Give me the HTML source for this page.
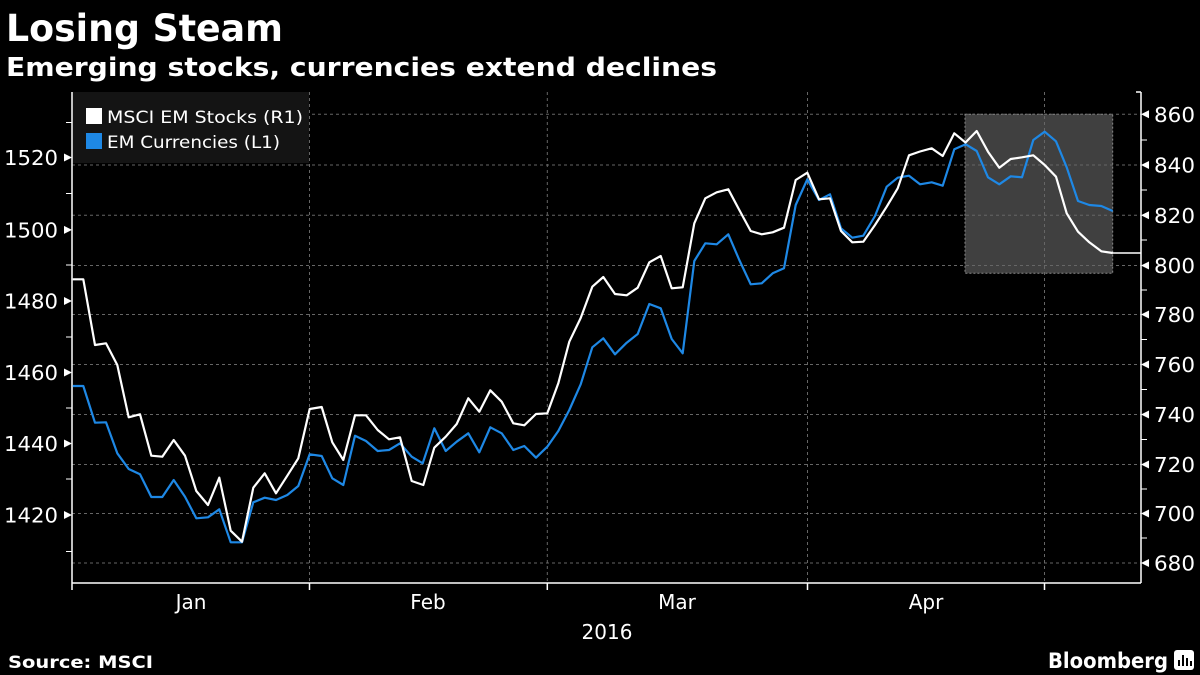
<!DOCTYPE html>
<html><head><meta charset="utf-8"><style>
html,body{margin:0;padding:0;background:#000;}
svg{display:block;}
text{font-family:"DejaVu Sans","Liberation Sans",sans-serif;fill:#fff;}
</style></head><body>
<svg width="1200" height="675" viewBox="0 0 1200 675" xmlns="http://www.w3.org/2000/svg">
<rect width="1200" height="675" fill="#000"/>
<text x="6" y="41" font-size="37" font-weight="bold" textLength="277" lengthAdjust="spacingAndGlyphs">Losing Steam</text>
<text x="6" y="76" font-size="26" font-weight="bold" textLength="711" lengthAdjust="spacingAndGlyphs">Emerging stocks, currencies extend declines</text>

<!-- shaded box -->
<rect x="965" y="114.3" width="147.7" height="159" fill="#404040" stroke="#888" stroke-width="1" stroke-dasharray="2,2"/>

<!-- grid -->
<g stroke="#666" stroke-width="1" stroke-dasharray="3,3">
<line x1="72" x2="1141" y1="114.3" y2="114.3"/><line x1="72" x2="1141" y1="165" y2="165"/>
<line x1="72" x2="1141" y1="215.3" y2="215.3"/><line x1="72" x2="1141" y1="265.5" y2="265.5"/>
<line x1="72" x2="1141" y1="314.5" y2="314.5"/><line x1="72" x2="1141" y1="364.5" y2="364.5"/>
<line x1="72" x2="1141" y1="414.5" y2="414.5"/><line x1="72" x2="1141" y1="464.5" y2="464.5"/>
<line x1="72" x2="1141" y1="513.5" y2="513.5"/><line x1="72" x2="1141" y1="563" y2="563"/>
<line x1="309.5" x2="309.5" y1="92" y2="583"/><line x1="547.3" x2="547.3" y1="92" y2="583"/>
<line x1="807.5" x2="807.5" y1="92" y2="583"/><line x1="1044.5" x2="1044.5" y1="92" y2="583"/>
</g>

<!-- legend -->
<rect x="72.5" y="92" width="236.5" height="71" fill="#141414"/>
<rect x="86" y="108" width="16" height="16" fill="#fff"/>
<rect x="86" y="133" width="16" height="16" fill="#1e88e5"/>
<text x="107" y="123" font-size="16.5" textLength="196" lengthAdjust="spacingAndGlyphs">MSCI EM Stocks (R1)</text>
<text x="107" y="148" font-size="16.5" textLength="173" lengthAdjust="spacingAndGlyphs">EM Currencies (L1)</text>

<!-- axes -->
<g stroke="#fff" stroke-width="1.5" fill="none">
<line x1="72" y1="92" x2="72" y2="583"/>
<line x1="1141" y1="92" x2="1141" y2="583"/>
<line x1="72" y1="583" x2="1141" y2="583"/>
<line x1="72" y1="583" x2="72" y2="590"/><line x1="309.5" y1="583" x2="309.5" y2="590"/>
<line x1="547.3" y1="583" x2="547.3" y2="590"/><line x1="807.5" y1="583" x2="807.5" y2="590"/>
<line x1="1044.5" y1="583" x2="1044.5" y2="590"/>
<line x1="1141" y1="92" x2="1136" y2="92"/>
</g>
<!-- left ticks -->
<g fill="#fff">
<polygon points="72,157.5 64,153.5 64,161.5"/><polygon points="72,229.9 64,225.9 64,233.9"/>
<polygon points="72,301 64,297 64,305"/><polygon points="72,372.5 64,368.5 64,376.5"/>
<polygon points="72,443.5 64,439.5 64,447.5"/><polygon points="72,515 64,511 64,519"/>
</g>
<g stroke="#fff" stroke-width="1">
<line x1="66" x2="72" y1="122.5" y2="122.5"/><line x1="66" x2="72" y1="193.5" y2="193.5"/>
<line x1="66" x2="72" y1="265" y2="265"/><line x1="66" x2="72" y1="337" y2="337"/>
<line x1="66" x2="72" y1="408" y2="408"/><line x1="66" x2="72" y1="479" y2="479"/>
<line x1="66" x2="72" y1="551.5" y2="551.5"/>
<line x1="1141" x2="1147" y1="140" y2="140"/><line x1="1141" x2="1147" y1="190" y2="190"/>
<line x1="1141" x2="1147" y1="240" y2="240"/><line x1="1141" x2="1147" y1="290" y2="290"/>
<line x1="1141" x2="1147" y1="339.5" y2="339.5"/><line x1="1141" x2="1147" y1="389.5" y2="389.5"/>
<line x1="1141" x2="1147" y1="439.5" y2="439.5"/><line x1="1141" x2="1147" y1="489" y2="489"/>
<line x1="1141" x2="1147" y1="538" y2="538"/>
</g>
<g fill="#fff">
<polygon points="1141,114.3 1149,110.3 1149,118.3"/><polygon points="1141,165 1149,161 1149,169"/>
<polygon points="1141,215.3 1149,211.3 1149,219.3"/><polygon points="1141,265.5 1149,261.5 1149,269.5"/>
<polygon points="1141,314.5 1149,310.5 1149,318.5"/><polygon points="1141,364.5 1149,360.5 1149,368.5"/>
<polygon points="1141,414.5 1149,410.5 1149,418.5"/><polygon points="1141,464.5 1149,460.5 1149,468.5"/>
<polygon points="1141,513.5 1149,509.5 1149,517.5"/><polygon points="1141,563 1149,559 1149,567"/>
</g>
<g font-size="20">
<text x="4" y="165" textLength="54" lengthAdjust="spacingAndGlyphs">1520</text>
<text x="4" y="237.5" textLength="54" lengthAdjust="spacingAndGlyphs">1500</text>
<text x="4" y="308.5" textLength="54" lengthAdjust="spacingAndGlyphs">1480</text>
<text x="4" y="380" textLength="54" lengthAdjust="spacingAndGlyphs">1460</text>
<text x="4" y="451" textLength="54" lengthAdjust="spacingAndGlyphs">1440</text>
<text x="4" y="522.5" textLength="54" lengthAdjust="spacingAndGlyphs">1420</text>
<text x="1154" y="122" textLength="41" lengthAdjust="spacingAndGlyphs">860</text>
<text x="1154" y="172.5" textLength="41" lengthAdjust="spacingAndGlyphs">840</text>
<text x="1154" y="223" textLength="41" lengthAdjust="spacingAndGlyphs">820</text>
<text x="1154" y="273" textLength="41" lengthAdjust="spacingAndGlyphs">800</text>
<text x="1154" y="322" textLength="41" lengthAdjust="spacingAndGlyphs">780</text>
<text x="1154" y="372" textLength="41" lengthAdjust="spacingAndGlyphs">760</text>
<text x="1154" y="422" textLength="41" lengthAdjust="spacingAndGlyphs">740</text>
<text x="1154" y="472" textLength="41" lengthAdjust="spacingAndGlyphs">720</text>
<text x="1154" y="521" textLength="41" lengthAdjust="spacingAndGlyphs">700</text>
<text x="1154" y="570.5" textLength="41" lengthAdjust="spacingAndGlyphs">680</text>
<g text-anchor="middle">
<text x="191" y="609">Jan</text>
<text x="428" y="609">Feb</text>
<text x="677" y="609">Mar</text>
<text x="926" y="609">Apr</text>
<text x="607" y="639">2016</text>
</g>
</g>

<!-- last value marker -->
<line x1="1112" y1="253" x2="1141" y2="253" stroke="#fff" stroke-width="1.5"/>

<!-- series -->
<polyline fill="none" stroke="#1e88e5" stroke-width="2.2" stroke-linejoin="round" points="72.7,386 83.3,386 95,422.7 106,422.3 117.3,453.3 128.7,469 140,474.3 151.3,497 162.3,497 173.7,480 185,496.7 196.3,518.3 208,517.3 219.3,509.3 230.7,542.3 242,542.3 253.3,502.3 264.7,497.7 276,500 287.3,495 298.3,486 309.7,454.3 321.7,456 332.3,478.3 343.3,485 355,435.7 366,441 377.7,451 389,450 400,443.3 411.7,456.7 422.7,463.3 434.3,428.3 445.7,451 456.7,441.7 468.3,433.3 479.3,452.3 490.3,427.3 501.7,433.3 513.3,450 524.3,446 536,457.7 547.3,446.7 558.3,431 569.3,410 580.7,384.3 592.3,347.3 603.3,338.3 615,354.3 626.7,342.7 637.7,334 649.3,304 660.7,308.3 671.7,339 682.7,353.3 694.3,261 705.3,243.3 716.7,244.3 728.3,234.3 739.3,260 750.7,284.3 761.7,283.3 772.7,273.3 784,268.3 795.7,205 807.3,179.3 819,200 830,194.3 841,228.3 852.3,237.7 863.3,235.7 875,216 886.7,186.7 897.7,177.7 909,175.7 920,184.3 931.7,182.3 942.7,185.7 954.3,149.3 965.7,144.3 976.7,151 988,177.3 999.3,184.3 1010.7,176.3 1022,177.3 1033.3,140 1044.7,131.7 1056,141.3 1066.7,167.3 1078,201 1089.3,205 1101.3,206 1112.7,211"/>
<polyline fill="none" stroke="#fff" stroke-width="2.2" stroke-linejoin="round" points="72.7,279.3 83.3,279.3 95,345 106,343.3 117.3,365 128.7,417.3 140,414.3 151.3,455.7 162.3,456.7 173.7,440 185,455.7 196.3,491 208,505 219.3,477.7 230.7,530.7 242,541.7 253.3,487.7 264.7,473.3 276,493.3 287.3,475.7 298.3,458.3 309.7,409 321.7,407 332.3,442.3 343.3,460 355,415.3 366,415.3 377.7,430 389,439.3 400,437.3 411.7,481 423.3,485 434.3,447.7 445.7,436.7 456.7,424 468.3,398.3 479.3,411.7 490.3,390.3 501.7,401.7 513.3,423.3 524.3,425.3 536,414 547.3,413.3 558.3,383.3 569.3,341.7 580.7,318 592.3,286.7 603.3,277 615,294 626.7,295.3 637.7,287.7 649.3,262.3 660.7,256 671.7,288.3 682.7,287.3 694.3,223.3 705.3,198.3 716.7,192.3 728.3,189.3 739.3,210 750.7,231 761.7,234.3 772.7,232.3 784,227.7 795.7,180 807.3,172.7 819,199.3 830,198.3 841,231 852.3,242.3 863.3,241.7 875,225 886.7,206.7 897.7,188.3 909,155.3 920,151.5 931.7,148.3 942.7,156 954.3,133.3 965.5,142.5 976.7,131 988,151.7 999.3,167.7 1010.7,159 1022,157.3 1033.3,155.3 1044.7,165 1056,176.7 1066.7,213.3 1078,231.7 1089.3,242.3 1101.3,251.3 1112.7,253"/>

<text x="8" y="668" font-size="17" font-weight="bold" textLength="145" lengthAdjust="spacingAndGlyphs">Source: MSCI</text>
<text x="1048" y="668" font-size="21" font-weight="bold" textLength="120" lengthAdjust="spacingAndGlyphs">Bloomberg</text>
<rect x="1174" y="650" width="20" height="20" rx="3" fill="#fff"/>
<g stroke="#000" stroke-width="2"><line x1="1179" y1="666" x2="1179" y2="660"/><line x1="1183" y1="666" x2="1183" y2="655"/><line x1="1187" y1="666" x2="1187" y2="658"/><line x1="1191" y1="666" x2="1191" y2="661"/></g>
</svg>
</body></html>
